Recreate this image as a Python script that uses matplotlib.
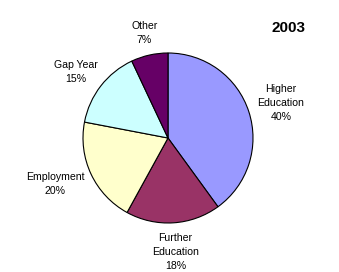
import numpy as np
import matplotlib
matplotlib.use("Agg")
import matplotlib.pyplot as plt

categories = ["Higher\nEducation", "Further\nEducation", "Employment", "Gap Year", "Other"]
values = [40, 18, 20, 15, 7]
colors = ["#9999FF", "#993366", "#FFFFCC", "#CCFFFF", "#660066"]
title = "2003"

plt.rcParams['font.family'] = ['Liberation Sans', 'DejaVu Sans']

W, H, dpi = 339, 272, 100
fig = plt.figure(figsize=(W / dpi, H / dpi), dpi=dpi)
fig.patch.set_facecolor("white")

cx, cy, r = 168, 134, 85
ax = fig.add_axes([(cx - r) / W, (cy - r) / H, 2 * r / W, 2 * r / H])

labels = [f"{c}\n{v}%" for c, v in zip(categories, values)]
wedges, texts = ax.pie(values, colors=colors, startangle=90, counterclock=False,
                       radius=1, labels=labels, labeldistance=1.3,
                       wedgeprops=dict(edgecolor="black", linewidth=0.8),
                       textprops=dict(fontsize=7.6, linespacing=1.5))
ax.set_xlim(-1, 1)
ax.set_ylim(-1, 1)
ax.set_aspect("equal")
ax.axis("off")

for t in texts:
    t.set_horizontalalignment("center")
    t.set_verticalalignment("center")
    t.set_clip_on(False)

fig.canvas.draw()
renderer = fig.canvas.get_renderer()
c_disp = ax.transData.transform((0, 0))
r_disp = ax.transData.transform((1, 0))[0] - c_disp[0]
gap = 1.12
for w, t in zip(wedges, texts):
    th = np.deg2rad((w.theta1 + w.theta2) / 2)
    bb = t.get_window_extent(renderer)
    anchor = c_disp + gap * r_disp * np.array([np.cos(th), np.sin(th)])
    pos = anchor + np.array([bb.width / 2 * np.cos(th), bb.height / 2 * np.sin(th)])
    t.set_position(ax.transData.inverted().transform(pos))

fig.text(288 / W, 1 - 28 / H, title, fontsize=11, fontweight="bold",
         ha="center", va="center")

fig.savefig("out.png", dpi=dpi)
